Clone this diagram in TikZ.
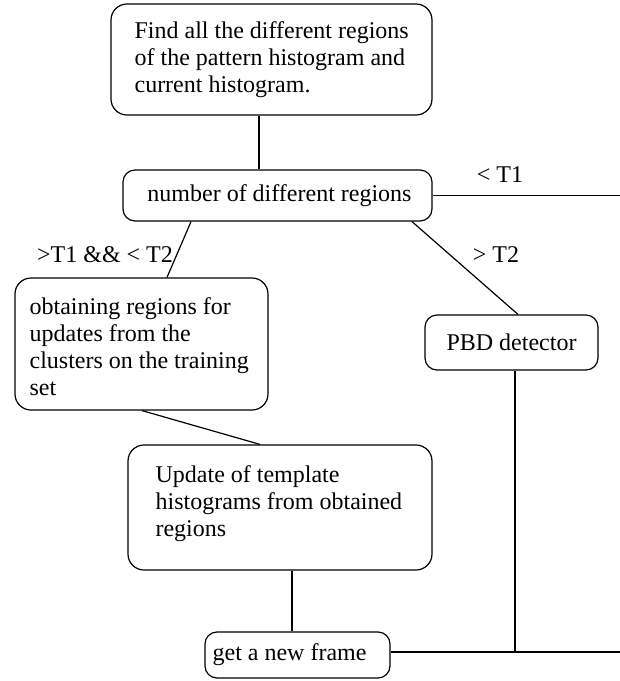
\documentclass[tikz,border=0pt]{standalone}
\usepackage{fontspec}
\setmainfont{Liberation Serif}
\begin{document}
\begin{tikzpicture}[x=1pt,y=-1pt,
  box/.style={draw, line width=1.2pt, rounded corners=16pt, inner sep=0pt},
  sbox/.style={draw, line width=1.2pt, rounded corners=12pt, inner sep=0pt},
  txt/.style={inner sep=0pt, align=left, font=\fontsize{24}{27}\selectfont},
  lbl/.style={inner sep=0pt, font=\fontsize{24}{27}\selectfont},
  conn/.style={line width=1.2pt}]
\useasboundingbox (0,0) rectangle (620,681);
% boxes
\node[box, minimum width=321pt, minimum height=111pt] (top) at (271.5,59.5) {};
\node[sbox, minimum width=309pt, minimum height=51pt] (num) at (277.5,195.5) {};
\node[box, minimum width=253pt, minimum height=132pt] (obt) at (141.5,344) {};
\node[sbox, minimum width=173pt, minimum height=55pt] (pbd) at (511.5,342.5) {};
\node[box, minimum width=304pt, minimum height=125pt] (upd) at (280,507.5) {};
\node[sbox, minimum width=185pt, minimum height=46pt] (gnf) at (297.5,655) {};
% texts
\node[txt, anchor=west] (topT) at ([xshift=24pt,yshift=0pt]top.west) {Find all the different regions\\of the pattern histogram and\\current histogram.};
\node[txt] (numT) at ([xshift=2pt]num.center) {number of different regions};
\node[txt, anchor=west] (obtT) at ([xshift=15pt,yshift=-3pt]obt.west) {obtaining regions for\\updates from the\\clusters on the training\\set};
\node[txt] (pbdT) at (pbd.center) {PBD detector};
\node[txt, anchor=west] (updT) at ([xshift=28pt,yshift=4pt]upd.west) {Update of template\\histograms from obtained\\regions};
\node[txt, anchor=west] (gnfT) at ([xshift=8pt]gnf.west) {get a new frame};
% free ends
\coordinate (r1) at (620,195.5);
\coordinate (j) at (515,652);
\coordinate (r2) at (620,652);
% connectors
\draw[conn] ([xshift=-12.5pt]top.south) -- ([xshift=-18.5pt]num.north);
\draw[conn] (num.east) -- (r1);
\draw[conn] ([xshift=-86.5pt]num.south) -- ([xshift=25.5pt]obt.north);
\draw[conn] ([xshift=134.5pt]num.south) -- ([xshift=6.5pt]pbd.north);
\draw[conn] ([xshift=0.5pt]obt.south) -- ([xshift=-20pt]upd.north);
\draw[conn] ([xshift=12pt]upd.south) -- ([xshift=-5.5pt]gnf.north);
\draw[conn] ([xshift=3.5pt]pbd.south) -- (j);
\draw[conn] ([yshift=3pt]gnf.east) -- (r2);
% labels
\node[lbl] (l1) at (500,175) {< T1};
\node[lbl] (l2) at (105,255) {>T1 \&\& < T2};
\node[lbl] (l3) at (496,255) {> T2};
\end{tikzpicture}
\end{document}
